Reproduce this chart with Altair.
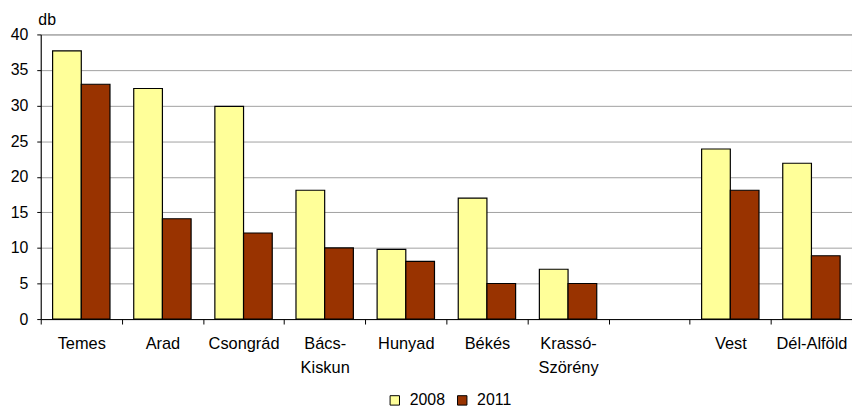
import altair as alt
import pandas as pd

categories = ["Temes", "Arad", "Csongrád", "Bács-\nKiskun", "Hunyad", "Békés",
              "Krassó-\nSzörény", " ", "Vest", "Dél-Alföld"]
v2008 = [37.7, 32.4, 29.9, 18.1, 9.8, 17.0, 7.0, None, 23.9, 21.9]
v2011 = [33.0, 14.1, 12.1, 10.0, 8.1, 5.0, 5.0, None, 18.1, 8.9]
years = ["2008", "2011"]
colors = ["#FFFF99", "#993300"]

rows = []
for c, a, b in zip(categories, v2008, v2011):
    if a is not None:
        rows.append({"cat": c, "year": "2008", "value": a})
    if b is not None:
        rows.append({"cat": c, "year": "2011", "value": b})
df = pd.DataFrame(rows)

FONT = "Liberation Sans"

chart = alt.Chart(df).mark_bar(stroke="black", strokeWidth=1.2).encode(
    x=alt.X("cat:N", sort=categories,
            scale=alt.Scale(domain=categories, paddingInner=0, paddingOuter=0),
            axis=alt.Axis(title=None, labelAngle=0, tickBand="extent", tickSize=5,
                          tickColor="black", domainColor="black", labelColor="black",
                          labelFont=FONT, labelFontSize=16.5, labelPadding=12,
                          labelLineHeight=24, labelBaseline="top",
                          labelExpr="split(datum.label, '\\n')")),
    xOffset=alt.XOffset("year:N", sort=years,
                        scale=alt.Scale(paddingOuter=0.414, paddingInner=0)),
    y=alt.Y("value:Q",
            scale=alt.Scale(domain=[0, 40], nice=False),
            axis=alt.Axis(values=[0, 5, 10, 15, 20, 25, 30, 35, 40], title="db",
                          titleAngle=0, titleAlign="center", titleBaseline="alphabetic",
                          titleX=6, titleY=-10, titleFont=FONT, titleFontSize=16,
                          titleFontWeight="normal", titleColor="black",
                          labelFont=FONT, labelFontSize=16, labelColor="black",
                          tickSize=4, tickColor="black", domainColor="black",
                          gridColor="#a0a0a0", labelPadding=9)),
    color=alt.Color("year:N", sort=years,
                    scale=alt.Scale(domain=years, range=colors),
                    legend=alt.Legend(title=None, orient="none", direction="horizontal",
                                      legendX=349, legendY=361, symbolType="square",
                                      symbolSize=90, symbolStrokeColor="black",
                                      symbolStrokeWidth=1, labelFont=FONT,
                                      labelFontSize=16, labelColor="black",
                                      columnPadding=9, labelOffset=7)),
).properties(
    width=818, height=287,
    autosize=alt.AutoSizeParams(type="none"),
    padding={"left": 33, "top": 25, "right": 0, "bottom": 87},
).configure_view(stroke="#a0a0a0")

chart.save("out.html", embed_options={"renderer": "svg", "actions": False})
